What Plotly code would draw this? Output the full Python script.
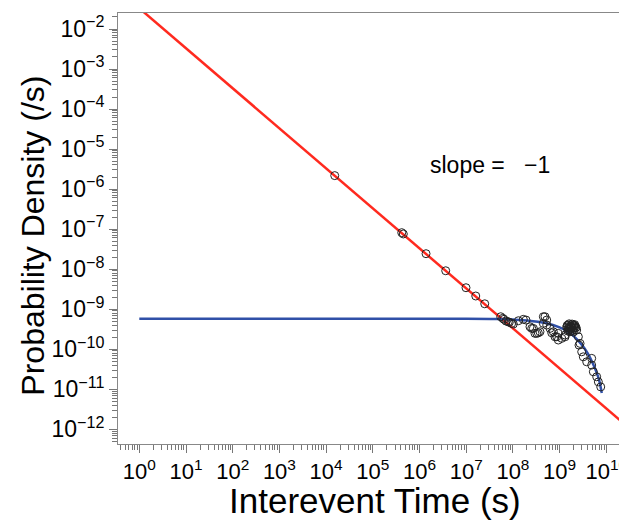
import plotly.graph_objects as go

# ---- data ----
line_pts_x = [1.53e4, 4.16e5, 4.50e5, 1.38e6, 3.64e6, 9.9e6, 1.60e7, 2.49e7]
line_pts_y = [2.17e-6, 8.15e-8, 7.56e-8, 2.43e-8, 9.1e-9, 3.43e-9, 2.13e-9, 1.36e-9]

cluster_x = [5.48e7, 6.05e7, 6.44e7, 7.11e7, 7.96e7, 8.37e7, 9.42e7, 1.02e8,
             1.31e8, 1.67e8, 1.91e8, 2.32e8, 2.53e8, 2.74e8, 2.97e8, 3.24e8,
             3.50e8, 3.80e8, 4.48e8, 4.86e8, 5.30e8, 4.48e8, 5.30e8, 6.22e8,
             6.78e8, 7.33e8, 7.96e8, 8.67e8, 9.38e8, 9.38e8, 1.11e9, 1.31e9,
             1.31e9, 1.42e9, 1.51e9, 1.67e9, 1.75e9, 1.85e9, 1.96e9, 2.03e9,
             2.14e9, 2.32e9, 1.51e9, 1.67e9, 1.96e9, 1.59e9, 1.85e9, 2.20e9,
             1.75e9, 2.03e9, 2.52e9, 2.74e9, 2.97e9, 3.21e9, 3.80e9, 4.86e9,
             4.86e9, 5.27e9, 6.22e9, 6.75e9, 7.59e9, 2.60e9,
             1.45e9, 1.60e9, 1.80e9, 2.10e9, 2.25e9, 1.55e9, 1.90e9]
cluster_y = [6.46e-10, 5.89e-10, 5.56e-10, 5.04e-10, 4.84e-10, 4.68e-10, 4.41e-10, 4.24e-10,
             5.13e-10, 5.56e-10, 5.33e-10, 3.62e-10, 3.30e-10, 3.30e-10, 2.48e-10, 2.48e-10,
             2.56e-10, 2.72e-10, 6.46e-10, 6.46e-10, 5.33e-10, 4.41e-10, 4.00e-10, 3.30e-10,
             2.56e-10, 2.72e-10, 2.04e-10, 2.04e-10, 1.69e-10, 2.48e-10, 1.86e-10, 2.25e-10,
             2.04e-10, 3.56e-10, 4.00e-10, 3.78e-10, 3.18e-10, 4.24e-10, 4.00e-10, 3.37e-10,
             3.78e-10, 3.00e-10, 2.83e-10, 2.72e-10, 2.67e-10, 3.37e-10, 3.00e-10, 3.40e-10,
             3.60e-10, 3.90e-10, 2.04e-10, 1.39e-10, 8.59e-11, 6.44e-11, 4.83e-11, 5.88e-11,
             3.99e-11, 2.72e-11, 2.04e-11, 1.52e-11, 1.14e-11, 1.26e-10,
             3.90e-10, 4.30e-10, 3.60e-10, 4.10e-10, 3.50e-10, 3.10e-10, 2.90e-10]

fit_x = [1.0, 1e7, 6.1e7, 1e8, 2e8, 5e8, 1e9, 1.5e9, 2e9, 3e9, 4e9, 5e9, 6e9, 7e9, 8e9]
fit_y = [5.75e-10, 5.75e-10, 5.65e-10, 5.47e-10, 5.2e-10, 4.48e-10, 3.49e-10, 2.72e-10,
         2.12e-10, 1.28e-10, 7.8e-11, 4.7e-11, 2.86e-11, 1.7e-11, 8.0e-12]

slope_line_x = [1.0, 2.5e10]
slope_line_y = [3.3e-2, 1.32e-12]

x_tick_exps = list(range(0, 11))
y_tick_exps = list(range(-12, -1))

FONT = "Liberation Sans, Arial, Helvetica, sans-serif"

fig = go.Figure()
fig.add_trace(go.Scatter(x=slope_line_x, y=slope_line_y, mode="lines",
                         line=dict(color="#ff2a1f", width=2.5), showlegend=False))
fig.add_trace(go.Scatter(x=fit_x, y=fit_y, mode="lines",
                         line=dict(color="#3050a8", width=2.5, shape="spline", smoothing=0.6),
                         showlegend=False))
fig.add_trace(go.Scatter(x=line_pts_x + cluster_x, y=line_pts_y + cluster_y, mode="markers",
                         marker=dict(symbol="circle-open", size=8, color="#222222",
                                     line=dict(width=1, color="#222222")),
                         showlegend=False))

def minor_vals(lo, hi):
    vals = []
    for e in range(lo, hi + 1):
        for k in range(2, 10):
            vals.append(k * 10.0 ** e)
    return vals

fig.update_xaxes(
    type="log", range=[-0.456, 10.4], automargin=False,
    tickmode="array",
    tickvals=[10.0 ** e for e in x_tick_exps],
    ticktext=["10<sup>%d</sup>" % e for e in x_tick_exps],
    ticklabeloverflow="allow",
    ticks="outside", ticklen=8, tickwidth=1, tickcolor="#777777",
    minor=dict(tickmode="array", tickvals=minor_vals(-1, 10), ticks="outside",
               ticklen=5, tickwidth=1, tickcolor="#777777", showgrid=False),
    showline=True, linecolor="#888888", linewidth=1, mirror=True,
    showgrid=False, zeroline=False,
    tickfont=dict(family=FONT, size=22, color="black"),
)
fig.update_yaxes(
    type="log", range=[-12.37, -1.6], automargin=False,
    tickmode="array",
    tickvals=[10.0 ** e for e in y_tick_exps],
    ticktext=["10<sup>\u2212%d</sup>" % (-e) for e in y_tick_exps],
    ticklabeloverflow="allow",
    ticks="outside", ticklen=8, tickwidth=1, tickcolor="#777777",
    minor=dict(tickmode="array", tickvals=minor_vals(-13, -2), ticks="outside",
               ticklen=5, tickwidth=1, tickcolor="#777777", showgrid=False),
    showline=True, linecolor="#888888", linewidth=1, mirror=True,
    showgrid=False, zeroline=False,
    tickfont=dict(family=FONT, size=23, color="black"),
)

fig.add_annotation(text="slope =   \u22121", xref="paper", yref="paper",
                   x=0.611, y=0.647, xanchor="left", yanchor="middle", showarrow=False,
                   font=dict(family=FONT, size=23, color="black"))
fig.add_annotation(text="Interevent Time (s)", xref="paper", yref="paper",
                   x=0.507, y=-0.13, xanchor="center", yanchor="middle", showarrow=False,
                   font=dict(family=FONT, size=35, color="black"))
fig.add_annotation(text="Probability Density (/s)", xref="paper", yref="paper",
                   x=-0.168, y=0.483, xanchor="center", yanchor="middle", showarrow=False,
                   textangle=-90, font=dict(family=FONT, size=32, color="black"))

# the page body adds an 8px offset; margins compensate so the frame lands at
# x 118..625, y 13..444 in the window
fig.update_layout(
    width=627, height=525,
    margin=dict(l=110, r=10, t=5, b=89),
    paper_bgcolor="white", plot_bgcolor="white",
    showlegend=False,
)

fig.write_html("out.html")
